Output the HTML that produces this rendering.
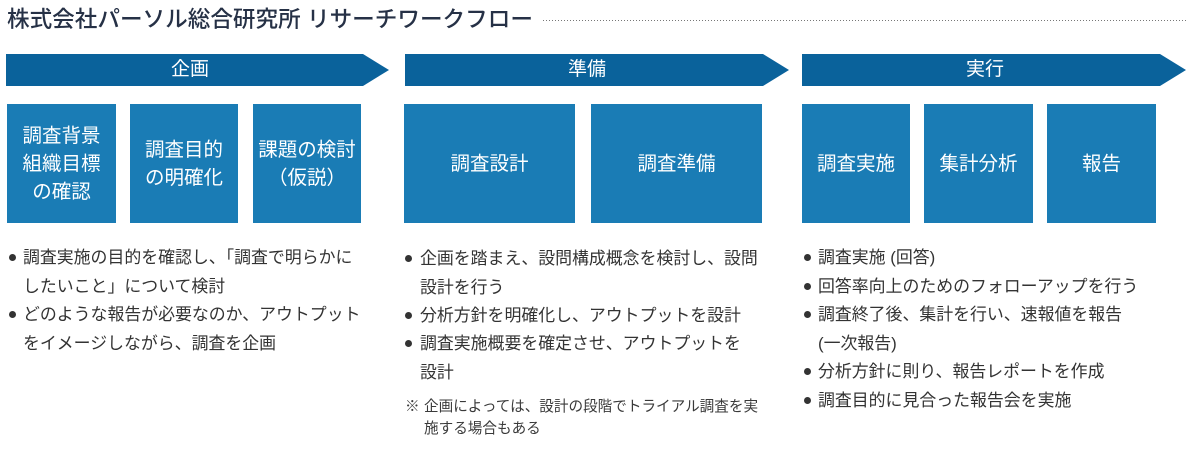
<!DOCTYPE html>
<html><head><meta charset="utf-8">
<style>
html,body{margin:0;padding:0;background:#fff;}
body{width:1200px;height:450px;position:relative;overflow:hidden;font-family:"Liberation Sans","Noto Sans CJK JP",sans-serif;}
.abs{position:absolute;}
.title{left:7px;top:5px;height:30px;line-height:30px;font-size:22.6px;color:#263146;font-weight:500;white-space:nowrap;}
.bt{position:absolute;color:#fff;font-size:19px;height:32px;line-height:32px;top:54px;text-align:center;white-space:nowrap;}
.box{position:absolute;top:104px;height:119px;background:#1a7cb5;color:#fff;font-size:19.5px;line-height:28px;display:flex;align-items:center;justify-content:center;text-align:center;white-space:nowrap;}
.ln{position:absolute;font-size:16.9px;height:28px;line-height:28px;color:#333;white-space:nowrap;}
.dot{position:absolute;width:7px;height:7px;border-radius:50%;background:#333;}
.nt{position:absolute;font-size:14.6px;height:22px;line-height:22px;color:#3a3a3a;white-space:nowrap;}
</style></head><body>

<div class="abs title">株式会社パーソル総合研究所 リサーチワークフロー</div>
<svg class="abs" style="left:0;top:0" width="1200" height="450">
  <line x1="543" y1="20.5" x2="1186" y2="20.5" stroke="#777" stroke-width="1" stroke-dasharray="1 2"/>
  <polygon points="6,54 363,54 389,70 363,86 6,86" fill="#0a629b"/>
  <polygon points="405,54 763,54 789,70 763,86 405,86" fill="#0a629b"/>
  <polygon points="802,54 1160,54 1186,70 1160,86 802,86" fill="#0a629b"/>
</svg>
<div class="bt" style="left:140px;width:100px;">企画</div>
<div class="bt" style="left:537px;width:100px;">準備</div>
<div class="bt" style="left:935px;width:100px;">実行</div>

<div class="box" style="left:7px;width:109px;">調査背景<br>組織目標<br>の確認</div>
<div class="box" style="left:130px;width:108px;">調査目的<br>の明確化</div>
<div class="box" style="left:253px;width:108px;">課題の検討<br>（仮説）</div>

<div class="box" style="left:404px;width:171px;">調査設計</div>
<div class="box" style="left:591px;width:171px;">調査準備</div>

<div class="box" style="left:802px;width:108px;">調査実施</div>
<div class="box" style="left:924px;width:109px;">集計分析</div>
<div class="box" style="left:1047px;width:109px;">報告</div>

<!-- column 1 -->
<div class="dot" style="left:9px;top:254px;"></div>
<div class="ln" style="left:23px;top:244px;">調査実施の目的を確認し、「調査で明らかに</div>
<div class="ln" style="left:23px;top:272.5px;">したいこと」について検討</div>
<div class="dot" style="left:9px;top:311px;"></div>
<div class="ln" style="left:23px;top:301px;">どのような報告が必要なのか、アウトプット</div>
<div class="ln" style="left:23px;top:329.5px;">をイメージしながら、調査を企画</div>

<!-- column 2 -->
<div class="dot" style="left:405px;top:255px;"></div>
<div class="ln" style="left:420px;top:245px;">企画を踏まえ、設問構成概念を検討し、設問</div>
<div class="ln" style="left:420px;top:273.5px;">設計を行う</div>
<div class="dot" style="left:405px;top:312px;"></div>
<div class="ln" style="left:420px;top:302px;">分析方針を明確化し、アウトプットを設計</div>
<div class="dot" style="left:405px;top:340px;"></div>
<div class="ln" style="left:420px;top:330px;">調査実施概要を確定させ、アウトプットを</div>
<div class="ln" style="left:420px;top:358.5px;">設計</div>
<div class="nt" style="left:405px;top:396px;">※</div>
<div class="nt" style="left:424px;top:396px;">企画によっては、設計の段階でトライアル調査を実</div>
<div class="nt" style="left:424px;top:418px;">施する場合もある</div>

<!-- column 3 -->
<div class="dot" style="left:804px;top:254px;"></div>
<div class="ln" style="left:818px;top:244px;">調査実施 (回答)</div>
<div class="dot" style="left:804px;top:282.5px;"></div>
<div class="ln" style="left:818px;top:272.5px;">回答率向上のためのフォローアップを行う</div>
<div class="dot" style="left:804px;top:311px;"></div>
<div class="ln" style="left:818px;top:301px;">調査終了後、集計を行い、速報値を報告</div>
<div class="ln" style="left:818px;top:329.5px;">(一次報告)</div>
<div class="dot" style="left:804px;top:368px;"></div>
<div class="ln" style="left:818px;top:358px;">分析方針に則り、報告レポートを作成</div>
<div class="dot" style="left:804px;top:396.5px;"></div>
<div class="ln" style="left:818px;top:386.5px;">調査目的に見合った報告会を実施</div>

</body></html>
